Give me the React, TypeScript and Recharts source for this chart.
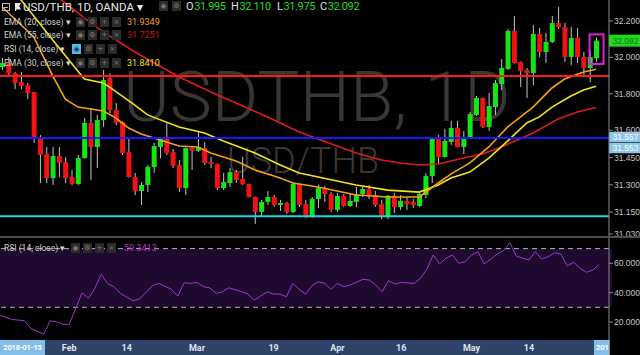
import React from 'react';
import { ComposedChart, Bar, Line, XAxis, YAxis, ReferenceLine, ReferenceArea } from 'recharts';

// ---- candle data (USD/THB daily, 2018-01-17 .. 2018-05-29) ----
const opens = [
  31.947, 31.969, 31.914, 31.865, 31.848, 31.810, 31.557, 31.469, 31.337, 31.458,
  31.425, 31.343, 31.304, 31.447, 31.640, 31.508, 31.656, 31.887, 31.711, 31.645,
  31.480, 31.343, 31.266, 31.299, 31.398, 31.508, 31.557, 31.480, 31.409, 31.282,
  31.502, 31.486, 31.502, 31.425, 31.414, 31.282, 31.310, 31.370, 31.332, 31.304,
  31.233, 31.151, 31.206, 31.233, 31.189, 31.200, 31.151, 31.304, 31.195, 31.123,
  31.222, 31.282, 31.249, 31.162, 31.239, 31.184, 31.206, 31.249, 31.277, 31.244,
  31.195, 31.123, 31.239, 31.178, 31.211, 31.206, 31.184, 31.244, 31.348, 31.552,
  31.453, 31.535, 31.612, 31.508, 31.557, 31.684, 31.777, 31.618, 31.727, 31.854,
  31.936, 32.145, 31.975, 31.931, 31.914, 32.129, 32.030, 32.085, 32.189, 32.167,
  32.002, 32.107, 32.002, 31.942, 31.995,
];
const highs = [
  31.997, 32.002, 31.920, 31.920, 31.859, 31.810, 31.574, 31.508, 31.508, 31.508,
  31.453, 31.381, 31.464, 31.667, 31.722, 31.684, 31.931, 31.914, 31.749, 31.648,
  31.557, 31.365, 31.315, 31.409, 31.530, 31.563, 31.640, 31.497, 31.436, 31.505,
  31.508, 31.590, 31.535, 31.453, 31.417, 31.365, 31.392, 31.381, 31.453, 31.306,
  31.235, 31.217, 31.266, 31.244, 31.217, 31.206, 31.315, 31.310, 31.217, 31.233,
  31.299, 31.293, 31.260, 31.255, 31.249, 31.255, 31.288, 31.288, 31.299, 31.266,
  31.217, 31.244, 31.255, 31.244, 31.233, 31.222, 31.255, 31.365, 31.563, 31.574,
  31.607, 31.651, 31.651, 31.596, 31.700, 31.788, 31.780, 31.804, 31.876, 31.991,
  32.156, 32.228, 31.978, 31.942, 32.178, 32.162, 32.134, 32.228, 32.277, 32.189,
  32.167, 32.162, 32.030, 32.041, 32.110,
];
const lows = [
  31.931, 31.903, 31.826, 31.826, 31.771, 31.530, 31.310, 31.310, 31.299, 31.343,
  31.310, 31.299, 31.299, 31.444, 31.326, 31.392, 31.618, 31.694, 31.629, 31.464,
  31.340, 31.244, 31.189, 31.260, 31.365, 31.447, 31.464, 31.392, 31.260, 31.244,
  31.381, 31.480, 31.409, 31.392, 31.271, 31.271, 31.288, 31.310, 31.299, 31.231,
  31.085, 31.123, 31.189, 31.178, 31.156, 31.140, 31.145, 31.178, 31.118, 31.118,
  31.173, 31.206, 31.151, 31.151, 31.178, 31.178, 31.178, 31.233, 31.222, 31.178,
  31.112, 31.112, 31.145, 31.162, 31.162, 31.173, 31.178, 31.228, 31.310, 31.414,
  31.450, 31.519, 31.505, 31.469, 31.552, 31.678, 31.612, 31.596, 31.684, 31.821,
  31.931, 31.966, 31.837, 31.777, 31.848, 32.002, 31.969, 32.079, 32.156, 31.975,
  31.958, 31.969, 31.892, 31.865, 31.975,
];
const closes = [
  31.969, 31.914, 31.859, 31.843, 31.804, 31.557, 31.464, 31.337, 31.458, 31.420,
  31.337, 31.304, 31.447, 31.640, 31.508, 31.656, 31.876, 31.711, 31.640, 31.475,
  31.343, 31.266, 31.299, 31.398, 31.513, 31.557, 31.475, 31.403, 31.282, 31.502,
  31.486, 31.508, 31.420, 31.414, 31.282, 31.315, 31.370, 31.326, 31.304, 31.233,
  31.151, 31.206, 31.233, 31.189, 31.200, 31.151, 31.304, 31.189, 31.123, 31.222,
  31.282, 31.249, 31.162, 31.239, 31.184, 31.211, 31.249, 31.277, 31.244, 31.189,
  31.123, 31.239, 31.178, 31.211, 31.195, 31.189, 31.249, 31.348, 31.552, 31.453,
  31.541, 31.612, 31.508, 31.557, 31.689, 31.777, 31.618, 31.733, 31.859, 31.942,
  32.145, 31.969, 31.925, 31.914, 32.129, 32.030, 32.085, 32.189, 32.167, 32.002,
  32.107, 32.002, 31.942, 32.002, 32.092,
];

// ---- indicator lines, read as [candle number, value] ----
const ema20Points: [number, number][] = [
  [1, 32.277], [6, 32.112], [9, 31.898], [11, 31.771], [13, 31.727], [17, 31.706], [19, 31.667],
  [21, 31.612], [23, 31.579], [26, 31.546], [29, 31.513], [32, 31.508], [34, 31.475], [38, 31.431],
  [41, 31.381], [45, 31.337], [47, 31.310], [51, 31.288], [57, 31.244], [62, 31.233], [67, 31.233],
  [70, 31.310], [72, 31.359], [75, 31.420], [78, 31.508], [81, 31.618], [85, 31.727], [88, 31.832],
  [90, 31.881], [93, 31.920], [95, 31.935],
];
const ema30Points: [number, number][] = [
  [1, 32.453], [4, 32.315], [9, 32.096], [14, 31.881], [17, 31.859], [18, 31.837], [22, 31.738],
  [24, 31.684], [29, 31.618], [33, 31.585], [36, 31.541], [41, 31.475], [45, 31.409], [48, 31.365],
  [51, 31.343], [57, 31.299], [62, 31.271], [67, 31.260], [70, 31.299], [72, 31.337], [75, 31.370],
  [78, 31.447], [81, 31.541], [84, 31.640], [86, 31.673], [88, 31.727], [91, 31.788], [93, 31.821],
  [95, 31.841],
];
const ema55Points: [number, number][] = [
  [9, 32.348], [11, 32.299], [15, 32.190], [17, 32.140], [22, 32.030], [29, 31.892], [34, 31.810],
  [38, 31.749], [43, 31.673], [48, 31.590], [51, 31.552], [54, 31.513], [57, 31.475], [61, 31.436],
  [64, 31.420], [67, 31.409], [70, 31.414], [74, 31.447], [77, 31.469], [80, 31.508], [85, 31.585],
  [89, 31.662], [92, 31.700], [95, 31.725],
];
const rsiPoints: [number, number][] = [
  [1, 24.7], [3, 21.8], [5, 20.8], [6, 15.6], [8, 11.7], [9, 20.8], [10, 20.1], [11, 18.4], [12, 18.4],
  [14, 39.9], [15, 36.1], [16, 42.9], [17, 52.5], [18, 46.3], [19, 44.0], [20, 39.5], [22, 34.5],
  [23, 35.6], [25, 44.7], [26, 46.3], [28, 42.3], [29, 37.7], [30, 46.8], [31, 46.3], [32, 47.0],
  [33, 44.0], [34, 43.3], [35, 39.5], [36, 40.6], [37, 43.3], [39, 40.6], [40, 39.0], [41, 34.9],
  [43, 40.6], [44, 39.0], [45, 39.0], [46, 37.2], [47, 46.3], [48, 42.3], [49, 39.0], [50, 44.7],
  [51, 47.4], [52, 46.3], [53, 42.3], [54, 46.3], [55, 44.0], [56, 45.2], [58, 49.1], [59, 48.6],
  [60, 45.2], [61, 40.6], [62, 48.2], [63, 45.9], [64, 47.0], [66, 46.3], [67, 49.8], [68, 55.9],
  [69, 65.7], [70, 59.5], [71, 63.4], [72, 65.7], [73, 60.0], [74, 61.1], [75, 65.7], [76, 67.9],
  [77, 59.5], [78, 62.7], [79, 66.3], [80, 68.6], [81, 74.1], [82, 65.0], [83, 63.4], [84, 62.3],
  [85, 67.9], [86, 62.9], [87, 64.5], [88, 67.2], [89, 66.3], [90, 58.2], [91, 60.7], [92, 56.6],
  [93, 53.9], [94, 55.4], [95, 59.34],
];

// ---- horizontal levels and axis labels ----
const resistanceLevel = 31.898;
const pivotLevel = 31.557;
const supportLevel = 31.127;
const lastClose = 32.092;
const priceTicks = [32.2, 32.0, 31.8, 31.6, 31.45, 31.3, 31.15, 31.03];
const rsiTicks = [20, 40, 60];
const rsiUpper = 70;
const rsiLower = 30;
const dateTickIndex = [12, 21, 32, 44, 54, 64, 75, 84];
const dateTickLabels = ['Feb', '14', 'Mar', '19', 'Apr', '16', 'May', '14'];
const ohlcLetters = ['O', 'H', 'L', 'C'];
const ohlcValues = ['31.995', '32.110', '31.975', '32.092'];
const legendLabels = ['EMA (20, close)', 'EMA (55, close)', 'RSI (14, close)', 'EMA (30, close)'];
const legendValues = ['31.9349', '31.7251', '', '31.8410'];
const rsiLegendValue = '59.3413';

const SLOTS = 97;
const HIGHLIGHT = 95;

const data: any[] = Array.from({ length: SLOTS }, (_, k) => {
  const row: any = { i: k + 1 };
  if (k < opens.length) {
    row.o = opens[k];
    row.h = highs[k];
    row.l = lows[k];
    row.c = closes[k];
    row.range = [lows[k], highs[k]];
  }
  return row;
});
ema20Points.forEach(([i, v]) => { data[i - 1].ema20 = v; });
ema30Points.forEach(([i, v]) => { data[i - 1].ema30 = v; });
ema55Points.forEach(([i, v]) => { data[i - 1].ema55 = v; });
rsiPoints.forEach(([i, v]) => { data[i - 1].rsi = v; });

const UI = "Roboto, 'Liberation Sans', Arial, sans-serif";
const GREEN = '#14e614';
const RED = '#f21212';

const Candle = (props: any) => {
  const { x, y, width, height, payload } = props;
  if (!payload || payload.o == null) return null;
  const top = Math.min(y, y + height);
  const hh = Math.abs(height);
  const { o, h, l, c } = payload;
  const span = h - l || 1;
  const py = (v: number) => top + ((h - v) / span) * hh;
  const up = c >= o;
  const bTop = py(Math.max(o, c));
  const bBot = py(Math.min(o, c));
  const cx = x + width / 2;
  return (
    <g>
      <line x1={cx} x2={cx} y1={top} y2={top + hh} stroke="#c4c4c4" strokeWidth={1} />
      <rect x={x} y={bTop} width={width} height={Math.max(1.2, bBot - bTop)} fill={up ? GREEN : RED} />
      {payload.i === HIGHLIGHT && (
        <rect x={cx - 7} y={top - 3} width={14} height={hh + 5} fill="none" stroke="#e01ee0" strokeWidth={2} />
      )}
    </g>
  );
};

const Tag = ({ x, yc, text, bg, fg, h }: any) => (
  <g>
    <rect x={x} y={yc - h / 2} width={31} height={h} fill={bg} />
    <text x={x + 3.5} y={yc} dy="0.35em" fill={fg} fontSize={8.5} fontFamily="'Liberation Sans', Arial">{text}</text>
  </g>
);

const Icon = ({ x, y, g, active }: any) => (
  <div style={{
    position: 'absolute', left: x, top: y, width: 9, height: 10, overflow: 'hidden',
    background: active ? '#55b8e6' : '#2b2b2b', color: active ? '#1a3f5a' : '#7c7c7c',
    fontSize: 7, lineHeight: '10px', textAlign: 'center', fontFamily: 'DejaVu Sans',
  }}>{g}</div>
);

const glyphs = ['◉', '⚙', '+', '×'];

export default function App() {
  const legendY = [17, 30, 44, 58];
  return (
    <div style={{ position: 'fixed', left: 0, top: 0, width: 640, height: 355, background: '#000', overflow: 'hidden', fontFamily: UI }}>
      {/* watermark */}
      <svg width={640} height={236} style={{ position: 'absolute', left: 0, top: 0 }}>
        <text x={123} y={121} fontSize={71} fontWeight={300} fontFamily="Roboto, 'Liberation Sans'" fill="#3a3633">USDTHB, 1D</text>
        <text x={227} y={173} fontSize={36} fontWeight={300} fontFamily="Roboto, 'Liberation Sans'" fill="#3a3633">USD/THB</text>
      </svg>

      {/* price panel */}
      <div style={{ position: 'absolute', left: 0, top: 0 }}>
        <ComposedChart width={640} height={236} data={data} margin={{ top: 0, right: 0, bottom: 0, left: 0 }}>
          <XAxis dataKey="i" type="category" hide padding={{ left: -1, right: -3 }} />
          <YAxis
            orientation="right" width={31} type="number" domain={[31.0187, 32.3154]} allowDataOverflow
            ticks={priceTicks} interval={0} tickFormatter={(v: number) => v.toFixed(3)}
            tick={{ fill: '#c6c6c6', fontSize: 8.5, fontFamily: "'Liberation Sans', Arial" }}
            tickSize={4} tickMargin={1} tickLine={{ stroke: '#8a8a8a' }} axisLine={{ stroke: '#8a8a8a' }}
          />
          <Bar dataKey="range" barSize={5} shape={(p: any) => <Candle {...p} />} isAnimationActive={false} />
          <Line dataKey="ema55" stroke="#dc1c1c" strokeWidth={1.6} dot={false} activeDot={false} connectNulls isAnimationActive={false} />
          <Line dataKey="ema30" stroke="#f2e41a" strokeWidth={1.6} dot={false} activeDot={false} connectNulls isAnimationActive={false} />
          <Line dataKey="ema20" stroke="#f5a01c" strokeWidth={1.6} dot={false} activeDot={false} connectNulls isAnimationActive={false} />
          <ReferenceLine y={resistanceLevel} stroke="#ff1a1a" strokeWidth={2} />
          <ReferenceLine y={supportLevel} stroke="#22d4e6" strokeWidth={2} />
          <ReferenceLine
            y={pivotLevel} stroke="#1818ff" strokeWidth={2}
            label={(p: any) => {
              const vb = p.viewBox || {};
              const x0 = (vb.x || 0) + (vb.width || 0);
              return (
                <g>
                  <Tag x={x0} yc={vb.y - 1} h={10.5} text="31.557" bg="#8cc6ea" fg="#ffffff" />
                  <Tag x={x0} yc={vb.y + 10} h={10.5} text="31.553" bg="#8cc6ea" fg="#ffffff" />
                </g>
              );
            }}
          />
          <ReferenceLine
            y={lastClose} stroke="none"
            label={(p: any) => {
              const vb = p.viewBox || {};
              return <Tag x={(vb.x || 0) + (vb.width || 0)} yc={vb.y} h={12} text="32.092" bg="#1fd81f" fg="#0d760d" />;
            }}
          />
        </ComposedChart>
      </div>

      {/* panel separator */}
      <div style={{ position: 'absolute', left: 0, top: 236, width: 640, height: 2, background: '#4e4e4e' }} />

      {/* date bar background */}
      <div style={{ position: 'absolute', left: 0, top: 340, width: 609, height: 15, background: '#2e4367' }} />

      {/* RSI panel */}
      <div style={{ position: 'absolute', left: 0, top: 238 }}>
        <ComposedChart width={640} height={117} data={data} margin={{ top: 0, right: 0, bottom: 0, left: 0 }}>
          <XAxis
            dataKey="i" type="category" height={15} padding={{ left: -1, right: -3 }}
            ticks={dateTickIndex} interval={0}
            tickFormatter={(v: any) => dateTickLabels[dateTickIndex.indexOf(Number(v))] ?? ''}
            axisLine={false} tickLine={false} tickSize={3} tickMargin={2}
            tick={{ fill: '#dbe3ee', fontSize: 9, fontWeight: 700, fontFamily: UI }}
          />
          <YAxis
            orientation="right" width={31} type="number" domain={[7.73, 77.24]} allowDataOverflow
            ticks={rsiTicks} interval={0} tickFormatter={(v: number) => v.toFixed(4)}
            tick={{ fill: '#c6c6c6', fontSize: 8.5, fontFamily: "'Liberation Sans', Arial" }}
            tickSize={4} tickMargin={1} tickLine={{ stroke: '#8a8a8a' }} axisLine={{ stroke: '#8a8a8a' }}
          />
          <ReferenceArea y1={rsiLower} y2={rsiUpper} fill="#1d0a2e" fillOpacity={1} stroke="none" />
          <ReferenceLine y={rsiUpper} stroke="#b4b4b4" strokeDasharray="5 4" />
          <ReferenceLine y={rsiLower} stroke="#b4b4b4" strokeDasharray="5 4" />
          <Line dataKey="rsi" stroke="#a333d4" strokeWidth={1} dot={false} activeDot={false} connectNulls isAnimationActive={false} />
        </ComposedChart>
      </div>

      {/* axis line through date bar */}
      <div style={{ position: 'absolute', left: 609, top: 340, width: 1, height: 15, background: '#8a8a8a' }} />

      {/* date boxes */}
      <div style={{ position: 'absolute', left: 0, top: 340, width: 45, height: 15, background: '#84bfea', color: '#fff', fontSize: 7.5, fontWeight: 700, lineHeight: '15px', textAlign: 'center', whiteSpace: 'nowrap', letterSpacing: -0.2, fontFamily: UI }}>2018-01-15</div>
      <div style={{ position: 'absolute', left: 594, top: 340, width: 15, height: 15, background: '#84bfea', color: '#fff', fontSize: 7.5, fontWeight: 700, lineHeight: '15px', overflow: 'hidden', whiteSpace: 'nowrap', paddingLeft: 2, boxSizing: 'border-box', fontFamily: UI }}>2018-05-29</div>

      {/* header row */}
      <div style={{ position: 'absolute', left: 2, top: 3, width: 6, height: 6, border: '1px solid #bdbdbd' }}>
        <div style={{ position: 'absolute', left: 1, top: 2.5, width: 4, height: 1, background: '#bdbdbd' }} />
      </div>
      <div style={{ position: 'absolute', left: 15, top: 3, width: 6, height: 8, background: '#e8e8e8', clipPath: 'polygon(0 0, 100% 0, 70% 40%, 100% 80%, 20% 80%, 20% 100%, 0 100%)' }} />
      <div style={{ position: 'absolute', left: 23, top: 0, fontSize: 11.5, lineHeight: '14px', color: '#e8e8e8', whiteSpace: 'nowrap' }}>USD/THB, 1D, OANDA ▾</div>
      <Icon x={159} y={1} g="◉" />
      <Icon x={172} y={1} g="⚙" />
      {ohlcLetters.map((t, k) => (
        <div key={t} style={{ position: 'absolute', left: [186, 231, 277, 320][k], top: 0, fontSize: 11, lineHeight: '14px', whiteSpace: 'nowrap', letterSpacing: -0.4 }}>
          <span style={{ color: '#e0e0e0' }}>{t}</span>
          <span style={{ color: '#22dd22', marginLeft: 1 }}>{ohlcValues[k]}</span>
        </div>
      ))}

      {/* indicator legend rows */}
      {legendLabels.map((lab, k) => (
        <React.Fragment key={lab}>
          <div style={{ position: 'absolute', left: 4, top: legendY[k], fontSize: 8.5, lineHeight: '11px', color: '#d2d2d2', whiteSpace: 'nowrap' }}>{lab} ▾</div>
          {glyphs.map((g, j) => (
            <Icon key={j} x={(k === 2 ? 72 : 76) + j * 12} y={legendY[k]} g={g} active={k === 2 && j === 0} />
          ))}
          {legendValues[k] && (
            <div style={{ position: 'absolute', left: 127, top: legendY[k], fontSize: 9, lineHeight: '11px', whiteSpace: 'nowrap', color: ['#f5a01c', '#c81818', '', '#f2e41a'][k] }}>{legendValues[k]}</div>
          )}
        </React.Fragment>
      ))}

      {/* RSI legend */}
      <div style={{ position: 'absolute', left: 4, top: 243, fontSize: 8.5, lineHeight: '11px', color: '#d2d2d2', whiteSpace: 'nowrap' }}>RSI (14, close) ▾</div>
      {glyphs.map((g, j) => (
        <Icon key={'r' + j} x={71 + j * 12} y={243} g={g} />
      ))}
      <div style={{ position: 'absolute', left: 124, top: 243, fontSize: 9, lineHeight: '11px', color: '#b933c8', whiteSpace: 'nowrap' }}>{rsiLegendValue}</div>
    </div>
  );
}
